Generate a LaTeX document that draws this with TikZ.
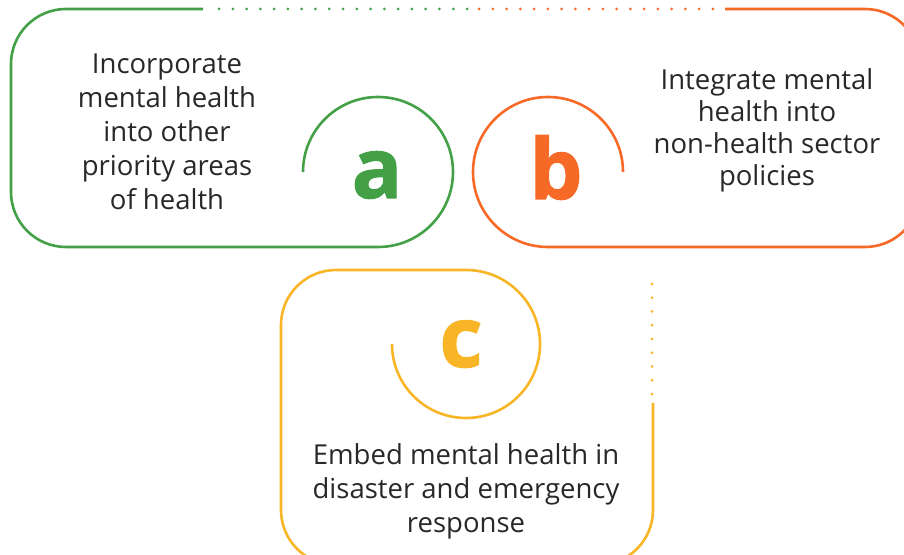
\documentclass[tikz,border=0pt]{standalone}
\usepackage{fontspec}
\setmainfont{Open Sans}
\newfontfamily\heavyfont{Open Sans}[BoldFeatures={FakeBold=1.2}]
\definecolor{grn}{RGB}{67,160,71}
\definecolor{org}{RGB}{247,105,38}
\definecolor{ylw}{RGB}{248,182,38}
\definecolor{txt}{RGB}{40,40,40}
\begin{document}
\begin{tikzpicture}[x=1pt,y=1pt,line width=2.6pt,
	lbl/.style={align=center,inner sep=0pt,text=txt,font=\fontsize{27.5}{34}\selectfont},
	letter/.style={anchor=base,inner sep=0pt,font=\fontsize{84}{84}\selectfont\heavyfont\bfseries}]
\path[use as bounding box,clip] (0,0) rectangle (904,554);

\draw[grn] (203,545) -- (66,545) arc[start angle=90,end angle=180,radius=55] -- (11,362) arc[start angle=180,end angle=270,radius=55] -- (378,307) arc[start angle=-90,end angle=180,radius=75];
\foreach \i in {0,...,18} \fill[grn] (219+13.78*\i,545) circle (1.5);
\node[letter,grn] (a) at (377,356) {a};
\node[lbl] (ta) at (167,422) {Incorporate\\mental health\\into other\\priority areas\\of health};

\draw[org] (725,545) -- (865,545) arc[start angle=90,end angle=0,radius=55] -- (920,362) arc[start angle=0,end angle=-90,radius=55] -- (548,307) arc[start angle=-90,end angle=-360,radius=75];
\foreach \i in {0,...,17} \fill[org] (479+13.76*\i,545) circle (1.5);
\node[letter,org] (b) at (556,355) {b};
\node[lbl,font=\fontsize{27.5}{32}\selectfont] (tb) at (767,424) {Integrate mental\\health into\\non-health sector\\policies};

\draw[ylw] (653,151) -- (653,44) arc[start angle=0,end angle=-90,radius=55] -- (336,-11) arc[start angle=-90,end angle=-180,radius=55] -- (281,229) arc[start angle=180,end angle=90,radius=55] -- (466,284) arc[start angle=90,end angle=-180,radius=74];
\foreach \i in {0,...,8} \fill[ylw] (652,270-13.75*\i) circle (1.5);
\node[letter,ylw] (c) at (461,187) {c};
\node[lbl] (tc) at (466,63) {Embed mental health in\\disaster and emergency\\response};
\end{tikzpicture}
\end{document}
